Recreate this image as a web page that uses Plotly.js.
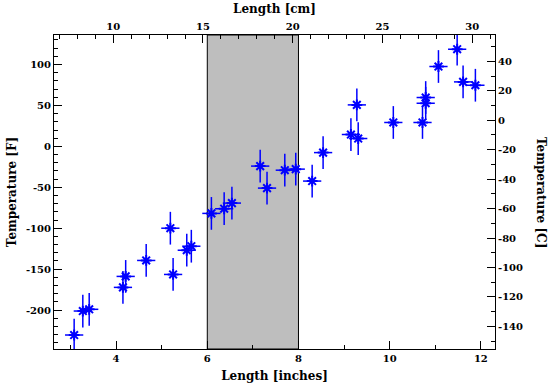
<!DOCTYPE html>
<html>
<head>
<meta charset="utf-8">
<script src="https://cdn.plot.ly/plotly-3.0.1.min.js"></script>
<style>html,body{margin:0;padding:0;background:#fff}#chart{width:549px;height:384px}</style>
</head>
<body>
<div id="chart"></div>
<script>
// Length in inches
var lengthInches = [3.08, 3.27, 3.41, 4.15, 4.21, 4.66, 5.19, 5.25, 5.55, 5.65,
                    6.09, 6.37, 6.54, 7.16, 7.31, 7.70, 7.94, 8.30, 8.54, 9.15,
                    9.31, 9.28, 10.08, 10.72, 10.79, 10.79, 11.07, 11.48, 11.61, 11.88];
// Temperature in Fahrenheit
var temperatureF = [-230.5, -201.2, -199.1, -172.3, -158.9, -139.4, -100.0, -156.5, -126.9, -122.0,
                    -81.9, -76.2, -69.3, -24.1, -51.0, -29.1, -27.8, -42.4, -7.6, 14.5,
                    9.6, 50.7, 29.2, 29.2, 59.7, 52.7, 97.6, 118.7, 78.8, 74.7];
var lengthErr = 0.2;
var tempErr = 20;
var shadeRange = [6, 8];

var tickValsF = [-200, -150, -100, -50, 0, 50, 100];
var tickTextF = ['-200', '-150', '-100', '-50', '0', '50', '100'];
var tickValsC = [-140, -120, -100, -80, -60, -40, -20, 0, 20, 40];
var tickTextC = ['-140', '-120', '-100', '-80', '-60', '-40', '-20', '0', '20', '40'];
var tickValsIn = [4, 6, 8, 10, 12];
var tickValsCm = [10, 15, 20, 25, 30];

var xRangeIn = [2.638, 12.31];
var yRangeF = [-247.6, 136.1];
var xRangeCm = xRangeIn.map(function(v){return v*2.54;});
var yRangeC = yRangeF.map(function(v){return (v-32)*5/9;});

var fnt = {family: 'DejaVu Serif', size: 10, color: '#000', weight: 'bold'};
var tfnt = {family: 'DejaVu Serif', size: 12, color: '#000', weight: 'bold'};

var trace = {
  x: lengthInches, y: temperatureF, type: 'scatter', mode: 'markers',
  marker: {symbol: 'asterisk-open', size: 9, color: '#0000ff', line: {color: '#0000ff', width: 2}},
  error_x: {type: 'constant', value: lengthErr, color: '#0000ff', thickness: 1.5, width: 0},
  error_y: {type: 'constant', value: tempErr, color: '#0000ff', thickness: 1.5, width: 0},
  hoverinfo: 'x+y', showlegend: false
};
// empty trace so that the secondary (cm / Celsius) axes are drawn
var axisHolder = {x: [], y: [], xaxis: 'x2', yaxis: 'y2', type: 'scatter', mode: 'markers',
  showlegend: false, hoverinfo: 'skip'};

function minor(dt){ return {tickmode: 'linear', ticks: 'inside', ticklen: 4, tickcolor: '#000', tickwidth: 1, dtick: dt, tick0: 0, showgrid: false}; }
function ax(extra){
  var o = {showline: true, linecolor: '#000', linewidth: 1, ticks: 'inside', ticklen: 8,
    tickcolor: '#000', tickwidth: 1, showgrid: false, zeroline: false, tickfont: fnt, automargin: false};
  for (var k in extra) o[k] = extra[k];
  return o;
}

var layout = {
  width: 549, height: 384,
  margin: {l: 54, r: 54, t: 35, b: 35},
  paper_bgcolor: '#fff', plot_bgcolor: '#fff',
  showlegend: false,
  xaxis: ax({range: xRangeIn, tickmode: 'array', tickvals: tickValsIn, side: 'bottom', anchor: 'y',
    title: {text: 'Length [inches]', font: tfnt, standoff: 8}, minor: minor(1)}),
  xaxis2: ax({range: xRangeCm, tickmode: 'array', tickvals: tickValsCm, side: 'top', overlaying: 'x', anchor: 'y2',
    title: {text: 'Length [cm]', font: tfnt, standoff: 4}, minor: minor(1)}),
  yaxis: ax({range: yRangeF, tickmode: 'array', tickvals: tickValsF, ticktext: tickTextF, side: 'left', anchor: 'x',
    title: {text: 'Temperature [F]', font: tfnt, standoff: 6}, minor: minor(10)}),
  yaxis2: ax({range: yRangeC, tickmode: 'array', tickvals: tickValsC, ticktext: tickTextC, side: 'right', overlaying: 'y', anchor: 'x2',
    minor: minor(10)}),
  shapes: [{type: 'rect', xref: 'x', yref: 'paper', x0: shadeRange[0], x1: shadeRange[1], y0: 0, y1: 1,
    fillcolor: '#bebebe', line: {color: '#000', width: 1}, layer: 'below'}],
  annotations: [{text: 'Temperature [C]', textangle: 90, xref: 'paper', yref: 'paper', x: 1, y: 0.5,
    xanchor: 'center', yanchor: 'middle', xshift: 46, showarrow: false, font: tfnt}]
};

Plotly.newPlot('chart', [trace, axisHolder], layout, {displayModeBar: false, staticPlot: true});
</script>
</body>
</html>
